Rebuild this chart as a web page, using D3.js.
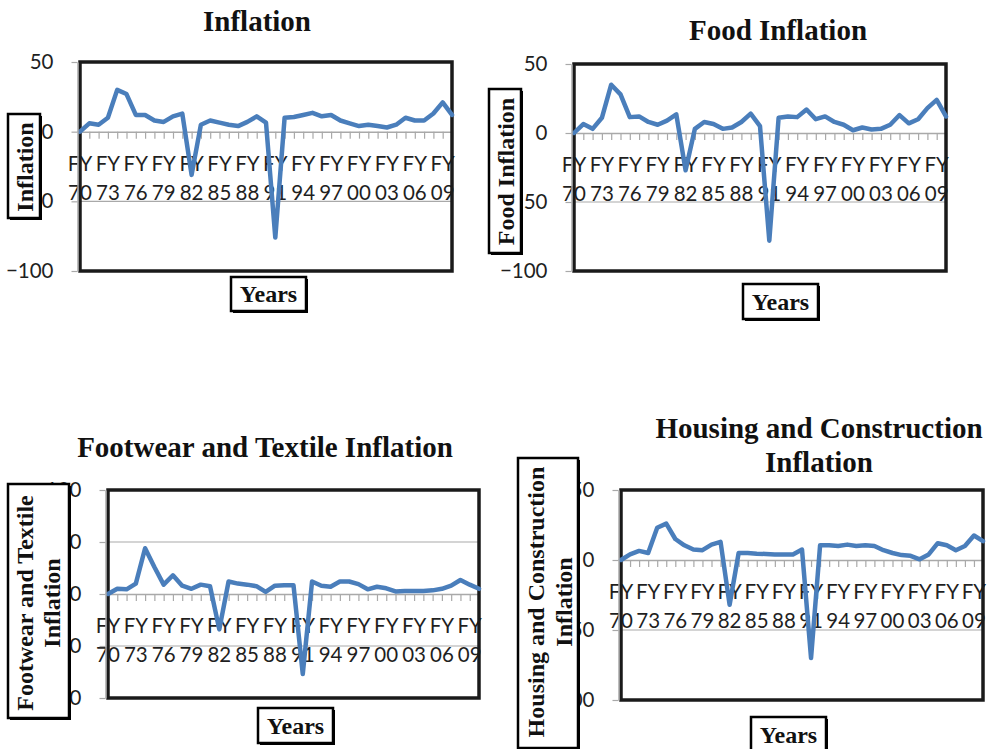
<!DOCTYPE html>
<html>
<head>
<meta charset="utf-8">
<script src="https://cdn.jsdelivr.net/npm/d3@7"></script>
<style>
  body { margin: 0; background: #fff; }
  svg { display: block; }
</style>
</head>
<body>
<div id="chart"></div>
<script>
// categories: fiscal years 1970 .. 2010
let years = ['FY70', 'FY71', 'FY72', 'FY73', 'FY74', 'FY75', 'FY76', 'FY77', 'FY78', 'FY79',
    'FY80', 'FY81', 'FY82', 'FY83', 'FY84', 'FY85', 'FY86', 'FY87', 'FY88', 'FY89',
    'FY90', 'FY91', 'FY92', 'FY93', 'FY94', 'FY95', 'FY96', 'FY97', 'FY98', 'FY99',
    'FY00', 'FY01', 'FY02', 'FY03', 'FY04', 'FY05', 'FY06', 'FY07', 'FY08', 'FY09', 'FY10'];

// every third year gets a label
let labelYears = ['FY70', 'FY73', 'FY76', 'FY79', 'FY82', 'FY85', 'FY88', 'FY91', 'FY94',
    'FY97', 'FY00', 'FY03', 'FY06', 'FY09'];

let inflation = [0, 6, 5, 10, 30, 27, 12, 12, 8, 7, 11, 13, -31, 5, 8, 6.5, 5, 4, 7, 11,
    6.5, -76, 10, 10.5, 12, 13.5, 11, 12, 8, 6, 4, 5, 4, 3, 5, 10, 8, 8, 13, 21, 12];

let foodInflation = [0, 6.5, 3, 11, 35, 28, 11.5, 12, 8, 6, 9, 13.5, -27, 3, 8, 6.5, 3, 4, 8, 14,
    5, -78, 11, 12, 11.5, 17, 10, 12, 8, 6, 2, 4, 2.5, 3, 6, 13, 7, 10, 18, 24, 12];

let footwearInflation = [0, 5, 4.5, 10, 44, 26, 9, 18, 8, 5, 9, 7.5, -34, 12, 10, 9, 7.5, 2, 8, 8.5,
    8.5, -77, 12, 8, 7, 12, 12, 9.5, 4.5, 7, 5.5, 2.5, 3, 3, 3, 3.5, 5, 8, 13.5, 9, 5];

let housingInflation = [0, 4, 6.5, 5, 23, 26, 15, 10.5, 7.5, 7, 11, 13, -32, 5, 5, 4.5, 4.3, 4, 4, 4,
    7.5, -70, 10.5, 10.5, 10, 11, 10, 10.5, 10, 7, 5, 3.5, 3, 0.5, 4, 12, 10.5, 7, 10, 17.5, 13.5];

let ticksShort = [-100, -50, 0, 50];
let ticksLong = [-100, -50, 0, 50, 100];

let lineColor = '#4a7ebb',
    gridColor = '#a9a9a9',
    tickFont = 'Lato, "Liberation Sans", sans-serif',
    titleFont = '"Liberation Serif", "Times New Roman", serif';

let svg = d3.select('#chart').append('svg')
    .attr('width', 993)
    .attr('height', 749);

let panels = [
    {
        values: inflation, domain: [-100, 50], ticks: ticksShort,
        plot: {l: 80, r: 452, t: 62, b: 271},
        title: ['Inflation'], titleX: 257, titleY: [31],
        yBox: {x: 8, y: 114, w: 32, h: 104}, yLines: [{text: 'Inflation', x: 25}], yMid: 167,
        xBox: {x: 231, y: 277, w: 75, h: 34}
    },
    {
        values: foodInflation, domain: [-100, 50], ticks: ticksShort,
        plot: {l: 574, r: 946, t: 64, b: 271},
        title: ['Food Inflation'], titleX: 778, titleY: [40],
        yBox: {x: 489, y: 89, w: 32, h: 164}, yLines: [{text: 'Food Inflation', x: 505.5}], yMid: 171.5,
        xBox: {x: 743, y: 284, w: 75, h: 35}
    },
    {
        values: footwearInflation, domain: [-100, 100], ticks: ticksLong,
        plot: {l: 108, r: 479, t: 490, b: 698},
        title: ['Footwear and Textile Inflation'], titleX: 265, titleY: [457],
        yBox: {x: 8, y: 484, w: 61, h: 234},
        yLines: [{text: 'Footwear and Textile', x: 25}, {text: 'Inflation', x: 52}], yMid: 603,
        xBox: {x: 258, y: 708, w: 75, h: 35}
    },
    {
        values: housingInflation, domain: [-100, 50], ticks: ticksShort,
        plot: {l: 621, r: 983, t: 490, b: 700},
        title: ['Housing and Construction', 'Inflation'], titleX: 819, titleY: [438, 472],
        yBox: {x: 518, y: 458, w: 60, h: 290},
        yLines: [{text: 'Housing and Construction', x: 536}, {text: 'Inflation', x: 563.5}], yMid: 602,
        xBox: {x: 751, y: 717, w: 75, h: 36}
    }
];

function drawBox(g, b) {
    // black offset gives the heavier right/bottom edge
    g.append('rect')
        .attr('x', b.x + 2).attr('y', b.y + 2)
        .attr('width', b.w).attr('height', b.h)
        .attr('fill', '#000');
    g.append('rect')
        .attr('x', b.x).attr('y', b.y)
        .attr('width', b.w).attr('height', b.h)
        .attr('fill', '#fff')
        .attr('stroke', '#000')
        .attr('stroke-width', 2.5);
}

function drawPanel(p) {
    let g = svg.append('g');
    let pl = p.plot;

    let xScale = d3.scalePoint()
        .domain(years)
        .range([pl.l, pl.r]);

    let yScale = d3.scaleLinear()
        .domain(p.domain)
        .range([pl.b, pl.t]);

    let zeroY = yScale(0);

    // gridlines
    g.append('g')
        .selectAll('line')
        .data(p.ticks.filter(d => d !== 0))
        .join('line')
        .attr('x1', pl.l).attr('x2', pl.r)
        .attr('y1', d => yScale(d)).attr('y2', d => yScale(d))
        .attr('stroke', gridColor)
        .attr('stroke-width', 1.2);

    // category axis sits on zero
    let xAxis = g.append('g')
        .attr('transform', `translate(0, ${zeroY})`)
        .call(d3.axisBottom(xScale).tickSize(7).tickFormat('').tickSizeOuter(0));
    xAxis.select('.domain').attr('stroke', gridColor).attr('stroke-width', 1.5);
    xAxis.selectAll('.tick line').attr('stroke', gridColor).attr('stroke-width', 1.2);

    // two-line year labels
    let labels = g.append('g')
        .attr('font-family', tickFont)
        .attr('font-size', 20.5)
        .attr('fill', '#1f1f1f')
        .attr('text-anchor', 'middle');
    labels.selectAll('text.fy')
        .data(labelYears)
        .join('text')
        .attr('class', 'fy')
        .attr('x', d => xScale(d))
        .attr('y', zeroY + 39)
        .text('FY');
    labels.selectAll('text.yr')
        .data(labelYears)
        .join('text')
        .attr('class', 'yr')
        .attr('x', d => xScale(d))
        .attr('y', zeroY + 68)
        .text(d => d.slice(2));

    // plot area border
    g.append('rect')
        .attr('x', pl.l).attr('y', pl.t)
        .attr('width', pl.r - pl.l).attr('height', pl.b - pl.t)
        .attr('fill', 'none')
        .attr('stroke', '#1a1a1a')
        .attr('stroke-width', 3.5);

    let line = d3.line()
        .x((d, i) => xScale(years[i]))
        .y(d => yScale(d));

    g.append('path')
        .datum(p.values)
        .attr('d', line)
        .attr('fill', 'none')
        .attr('stroke', lineColor)
        .attr('stroke-width', 4.5)
        .attr('stroke-linejoin', 'round')
        .attr('stroke-linecap', 'round');

    // value axis
    let yAxis = g.append('g')
        .attr('transform', `translate(${pl.l - 2.5}, 0)`)
        .call(d3.axisLeft(yScale).tickValues(p.ticks).tickSize(6).tickPadding(18).tickSizeOuter(0));
    yAxis.select('.domain').attr('stroke', gridColor).attr('stroke-width', 1.5);
    yAxis.selectAll('.tick line').attr('stroke', gridColor).attr('stroke-width', 1.2);
    yAxis.selectAll('.tick text')
        .attr('font-family', tickFont)
        .attr('font-size', 20.5)
        .attr('fill', '#1f1f1f');

    // title
    g.append('text')
        .attr('font-family', titleFont)
        .attr('font-weight', 'bold')
        .attr('font-size', 29)
        .attr('fill', '#111')
        .attr('text-anchor', 'middle')
        .selectAll('tspan')
        .data(p.title)
        .join('tspan')
        .attr('x', p.titleX)
        .attr('y', (d, i) => p.titleY[i])
        .text(d => d);

    // y title box, drawn over the tick labels
    drawBox(g, p.yBox);
    g.selectAll('text.ytitle')
        .data(p.yLines)
        .join('text')
        .attr('class', 'ytitle')
        .attr('transform', d => `translate(${d.x}, ${p.yMid}) rotate(-90)`)
        .attr('text-anchor', 'middle')
        .attr('dominant-baseline', 'central')
        .attr('font-family', titleFont)
        .attr('font-weight', 'bold')
        .attr('font-size', 24)
        .attr('fill', '#111')
        .text(d => d.text);

    // x title box
    drawBox(g, p.xBox);
    g.append('text')
        .attr('x', p.xBox.x + p.xBox.w / 2)
        .attr('y', p.xBox.y + p.xBox.h / 2)
        .attr('text-anchor', 'middle')
        .attr('dominant-baseline', 'central')
        .attr('font-family', titleFont)
        .attr('font-weight', 'bold')
        .attr('font-size', 24)
        .attr('fill', '#111')
        .text('Years');
}

panels.forEach(drawPanel);
</script>
</body>
</html>
